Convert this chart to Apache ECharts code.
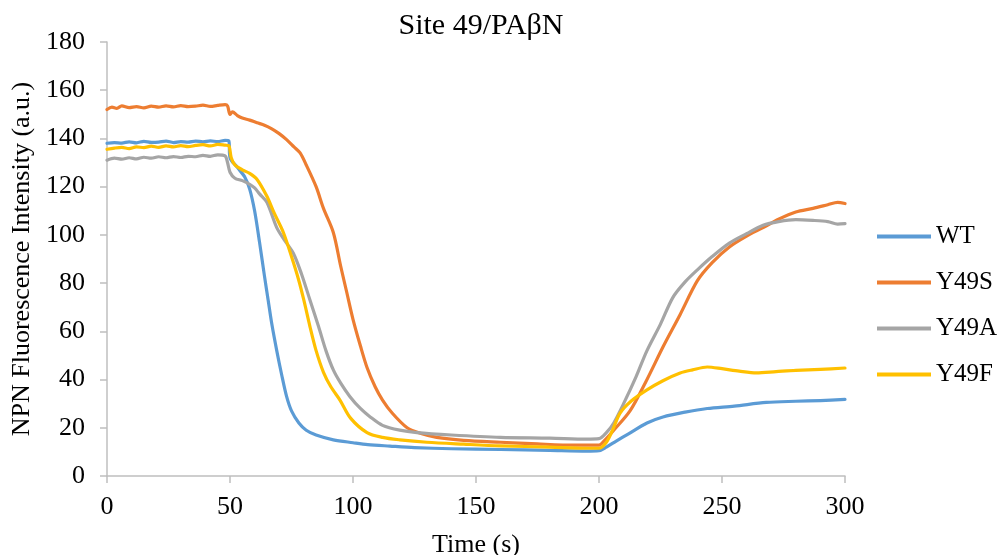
<!DOCTYPE html>
<html>
<head>
<meta charset="utf-8">
<script src="https://cdn.jsdelivr.net/npm/echarts@6/dist/echarts.min.js"></script>
<style>
  html, body { margin: 0; padding: 0; background: #fff; }
  #chart { width: 999px; height: 555px; }
</style>
</head>
<body>
<div id="chart"></div>
<script>
// NPN fluorescence traces, [time (s), intensity (a.u.)]
var seriesNames = ['WT', 'Y49S', 'Y49A', 'Y49F']
var colors = ['#5B9BD5', '#ED7D31', '#A5A5A5', '#FFC000']

var wtData = [[0,138],[3,138.3],[6,138.1],[9,138.6],[12,138.2],[15,138.8],[18,138.4],[21,138.5],[24,138.9],[27,138.3],[30,138.7],[33,138.5],[36,138.9],[39,138.6],[42,139],[45,138.7],[48,139.2],[49.5,139],
  [50,132],[53,128],[56,124],[58,119],[60,110],[62,97],[64,83],[65.5,73],[67,63],[69,52],[71,42],[73,33],[75,27],[78,22],[81,19],[85,17],[92,15],[100,13.8],[106,13],[115,12.4],[125,11.8],[140,11.3],[160,11],[180,10.6],[195,10.3],[200,10.5],
  [203,12],[207,14.5],[212,17.5],[219.5,22],[226,24.5],[235,26.5],[244,28],[255,29],[268,30.5],[280,31],[290,31.3],[300,31.8]]

var y49sData = [[0,152],[2,153],[4,152.5],[6,153.5],[9,152.8],[12,153.2],[15,152.7],[18,153.4],[21,153],[24,153.5],[27,153.1],[30,153.6],[33,153.2],[36,153.4],[39,153.8],[42,153.3],[45,153.7],[48,154],[49,153.5],
  [50,150],[51,151],[53,149.5],[55,148.5],[58,147.6],[61,146.5],[64,145.5],[67,144],[70,142],[73,139.5],[76,136.5],[78.5,134],[81,129],[85,120],[88,111],[92,101],[95,87],[97.5,76],[100,65],[103,54],[105.7,45],[109,37],[112,31.5],[116,26],[122,20],[128,17.5],[134,16],[145,14.8],[160,14],[175,13.3],[190,12.8],[200,12.8],
  [202,14.5],[206,19],[212.6,27],[219,39],[226,53.5],[233,67],[240,81],[246,88.5],[253,95],[260,99.5],[266.7,103],[273,106.5],[280,109.5],[287,111],[293,112.5],[297,113.5],[300,113]]

var y49aData = [[0,131],[3,131.8],[6,131.4],[9,132],[12,131.5],[15,132.2],[18,131.8],[21,132.4],[24,132],[27,132.5],[30,132.1],[33,132.6],[36,132.4],[39,133],[42,132.6],[45,133.2],[48,132.8],
  [49,130],[50,126],[52,123.5],[55,122.5],[58,121],[60,119.5],[62,117],[65,113.5],[69,103],[72,98],[75.7,92.5],[79,84],[82.5,73],[86,62],[89,52],[92,44],[95,38.5],[98.7,33],[103,28],[107,24.5],[112,21],[119,19],[126,18],[140,17],[160,16],[180,15.7],[195,15.3],[200,15.5],
  [203,18],[206,22],[210,30],[215,41],[219.5,52],[225,63],[230,74],[235,80.5],[240,85.5],[246,91],[253,96.6],[260,100.5],[266.7,104],[273,105.5],[280,106.3],[287,106],[293,105.5],[297,104.5],[300,104.7]]

var y49fData = [[0,135.5],[3,136],[6,136.3],[9,135.8],[12,136.5],[15,136.2],[18,136.8],[21,136.3],[24,136.9],[27,136.5],[30,137],[33,136.6],[36,137.1],[39,137.4],[42,136.9],[45,137.5],[48,137.2],[49.5,137],
  [50.5,132],[52,129],[55,127],[58,125.5],[61,123],[65,116],[68,109],[71.7,101],[75,91],[78,81],[80,73],[82.5,62],[85,52],[88,43],[91,37],[94.7,31.5],[99,24],[105.7,18],[112,16],[119,15],[130,14],[145,13.2],[160,12.5],[180,12],[195,11.5],[200,11.5],
  [203,14],[205.5,19],[208.5,26],[213,31],[219.5,35.7],[226,39.5],[233,42.7],[238,44],[244,45.2],[250,44.5],[257,43.5],[264,42.8],[272,43.3],[280,43.8],[290,44.2],[300,44.8]]

var allData = [wtData, y49sData, y49aData, y49fData]

var font = '"Liberation Serif", "Times New Roman", serif'
var axisColor = '#BFBFBF'

var chart = echarts.init(document.getElementById('chart'))

var series = []
for (var i = 0; i < seriesNames.length; i++) {
  series.push({
    name: seriesNames[i],
    type: 'line',
    data: allData[i],
    showSymbol: false,
    smooth: 0.3,
    lineStyle: { width: 3.2, color: colors[i], cap: 'round', join: 'round' },
    itemStyle: { color: colors[i] },
    animation: false
  })
}

chart.setOption({
  title: {
    text: 'Site 49/PA\u03b2N',
    left: 476,
    top: 6,
    textAlign: 'center',
    textStyle: { fontFamily: font, fontSize: 30, fontWeight: 'normal', color: '#000' }
  },
  grid: { left: 107, right: 154, top: 42, bottom: 79, outerBoundsMode: 'none' },
  legend: {
    orient: 'vertical',
    left: 872,
    top: 219,
    itemWidth: 54,
    itemHeight: 4,
    itemGap: 21,
    icon: 'rect',
    data: seriesNames,
    textStyle: { fontFamily: font, fontSize: 25, color: '#000' }
  },
  xAxis: {
    type: 'value',
    min: 0,
    max: 300,
    interval: 50,
    name: 'Time (s)',
    nameLocation: 'middle',
    nameGap: 56,
    nameTextStyle: { fontFamily: font, fontSize: 26, color: '#000' },
    axisLine: { lineStyle: { color: axisColor, width: 1.5 } },
    axisTick: { show: true, length: 7, lineStyle: { color: axisColor, width: 1.5 } },
    axisLabel: { fontFamily: font, fontSize: 26, color: '#000', margin: 18 },
    splitLine: { show: false }
  },
  yAxis: {
    type: 'value',
    min: 0,
    max: 180,
    interval: 20,
    name: 'NPN Fluorescence Intensity (a.u.)',
    nameLocation: 'middle',
    nameGap: 72,
    nameTextStyle: { fontFamily: font, fontSize: 26, color: '#000' },
    axisLine: { show: true, lineStyle: { color: axisColor, width: 1.5 } },
    axisTick: { show: true, length: 7, lineStyle: { color: axisColor, width: 1.5 } },
    axisLabel: { fontFamily: font, fontSize: 26, color: '#000', margin: 22 },
    splitLine: { show: false }
  },
  series: series
})
</script>
</body>
</html>
